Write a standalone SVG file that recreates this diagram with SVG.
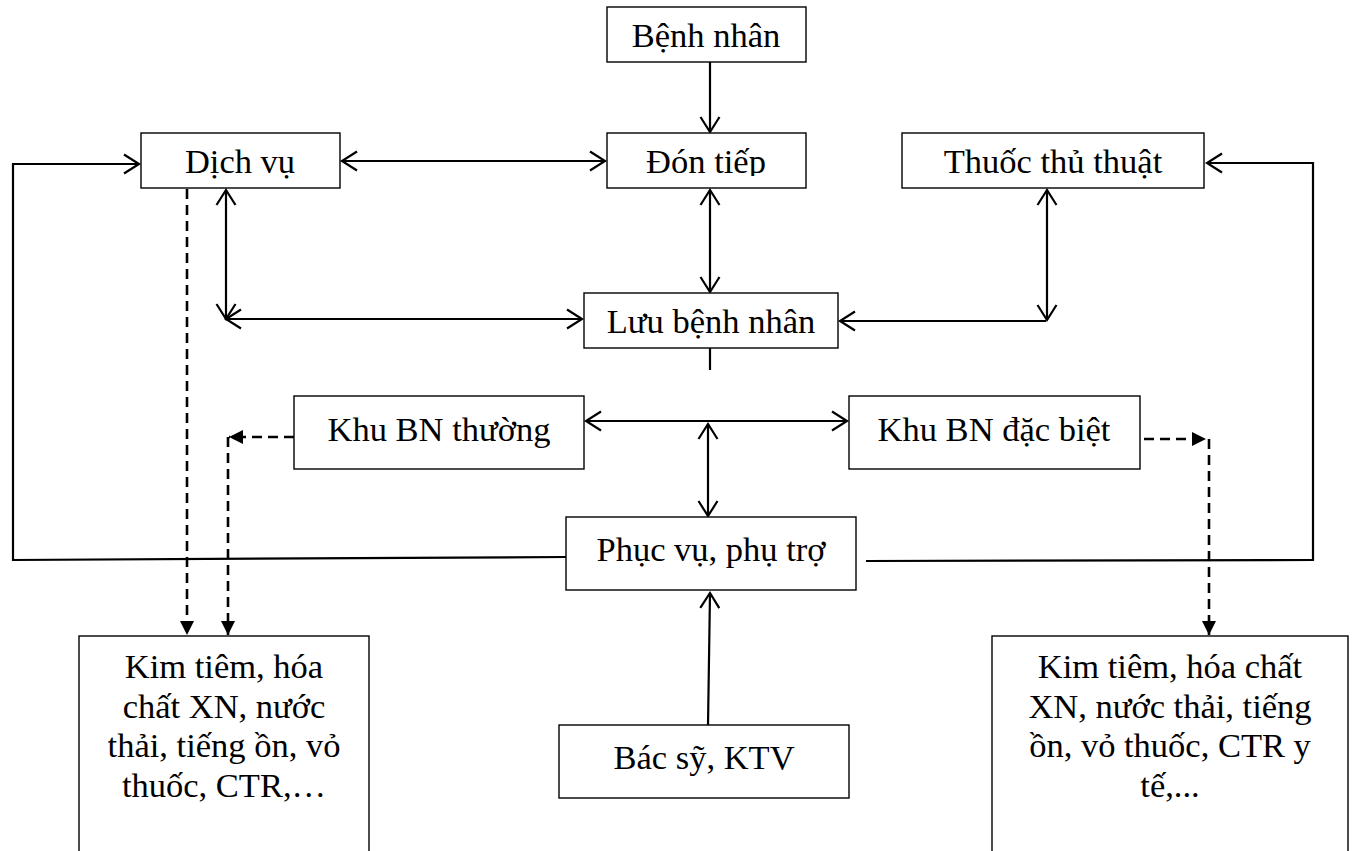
<svg xmlns="http://www.w3.org/2000/svg" width="1354" height="851" viewBox="0 0 1354 851">
  <style>
    .box { fill: #fff; stroke: #000; stroke-width: 1.4; }
    .lbl { font-family: "Liberation Serif", "Times New Roman", serif; font-size: 34.5px; fill: #000; text-anchor: middle; }
    .ln { fill: none; stroke: #000; stroke-width: 2.2; }
    .dash { fill: none; stroke: #000; stroke-width: 2.6; stroke-dasharray: 10 6; }
  </style>
  <defs>
    <marker id="open" markerUnits="userSpaceOnUse" markerWidth="22" markerHeight="22" viewBox="-17 -11 22 22" refX="0" refY="0" orient="auto-start-reverse" overflow="visible">
      <path d="M-15,-9.5 L0,0 L-15,9.5" fill="none" stroke="#000" stroke-width="2.2"/>
    </marker>
    <marker id="solid" markerUnits="userSpaceOnUse" markerWidth="16" markerHeight="16" viewBox="-14 -8 16 16" refX="0" refY="0" orient="auto" overflow="visible">
      <path d="M-14,-7 L0,0 L-14,7 Z" fill="#000"/>
    </marker>
    <clipPath id="clipDon">
      <rect x="607" y="133" width="199" height="43"/>
    </clipPath>
  </defs>

  <!-- connectors -->
  <g id="connectors">
    <line class="ln" x1="710" y1="62" x2="710" y2="132" marker-end="url(#open)"/>
    <line class="ln" x1="342" y1="161" x2="605" y2="161" marker-start="url(#open)" marker-end="url(#open)"/>
    <line class="ln" x1="710" y1="190" x2="710" y2="292" marker-start="url(#open)" marker-end="url(#open)"/>
    <line class="ln" x1="226" y1="190" x2="226" y2="319" marker-start="url(#open)" marker-end="url(#open)"/>
    <line class="ln" x1="226" y1="319" x2="582" y2="319" marker-start="url(#open)" marker-end="url(#open)"/>
    <line class="ln" x1="1047" y1="190" x2="1047" y2="320" marker-start="url(#open)" marker-end="url(#open)"/>
    <line class="ln" x1="840" y1="321" x2="1046" y2="321" marker-start="url(#open)"/>
    <line class="ln" x1="710" y1="348" x2="710" y2="370"/>
    <line class="ln" x1="586" y1="421" x2="847" y2="421" marker-start="url(#open)" marker-end="url(#open)"/>
    <line class="ln" x1="708" y1="424" x2="708" y2="516" marker-start="url(#open)" marker-end="url(#open)"/>
    <line class="ln" x1="708" y1="725" x2="710" y2="593" marker-end="url(#open)"/>
    <polyline class="ln" points="566,557 13,560 13,164 139,164" marker-end="url(#open)"/>
    <polyline class="ln" points="866,561 1313,560 1313,163 1207,163" marker-end="url(#open)"/>

    <line class="dash" x1="187" y1="189" x2="187" y2="635" marker-end="url(#solid)"/>
    <line class="dash" x1="294" y1="437" x2="229" y2="437" marker-end="url(#solid)"/>
    <line class="dash" x1="228" y1="437" x2="228" y2="635" marker-end="url(#solid)"/>
    <line class="dash" x1="1144" y1="439" x2="1206" y2="439" marker-end="url(#solid)"/>
    <line class="dash" x1="1209" y1="439" x2="1209" y2="635" marker-end="url(#solid)"/>
  </g>

  <!-- nodes -->
  <g id="benh-nhan">
    <rect class="box" x="607" y="7" width="199" height="55"/>
    <text class="lbl" x="706" y="47">Bệnh nhân</text>
  </g>
  <g id="don-tiep">
    <rect class="box" x="607" y="133" width="199" height="55"/>
    <text class="lbl" x="706" y="173" clip-path="url(#clipDon)">Đón tiếp</text>
  </g>
  <g id="dich-vu">
    <rect class="box" x="141" y="133" width="199" height="55"/>
    <text class="lbl" x="240" y="173">Dịch vụ</text>
  </g>
  <g id="thuoc-thu-thuat">
    <rect class="box" x="902" y="133" width="302" height="55"/>
    <text class="lbl" x="1053" y="173">Thuốc thủ thuật</text>
  </g>
  <g id="luu-benh-nhan">
    <rect class="box" x="584" y="293" width="254" height="55"/>
    <text class="lbl" x="711" y="333">Lưu bệnh nhân</text>
  </g>
  <g id="khu-bn-thuong">
    <rect class="box" x="294" y="396" width="290" height="73"/>
    <text class="lbl" x="439" y="441">Khu BN thường</text>
  </g>
  <g id="khu-bn-dac-biet">
    <rect class="box" x="849" y="396" width="291" height="73"/>
    <text class="lbl" x="994" y="441">Khu BN đặc biệt</text>
  </g>
  <g id="phuc-vu-phu-tro">
    <rect class="box" x="566" y="517" width="290" height="73"/>
    <text class="lbl" x="711" y="561">Phục vụ, phụ trợ</text>
  </g>
  <g id="bac-sy-ktv">
    <rect class="box" x="559" y="725" width="290" height="73"/>
    <text class="lbl" x="704" y="769">Bác sỹ, KTV</text>
  </g>
  <g id="chat-thai-trai">
    <rect class="box" x="79" y="636" width="290" height="240"/>
    <text class="lbl" x="224" y="678">Kim tiêm, hóa</text>
    <text class="lbl" x="224" y="718">chất XN, nước</text>
    <text class="lbl" x="224" y="757">thải, tiếng ồn, vỏ</text>
    <text class="lbl" x="224" y="797">thuốc, CTR,…</text>
  </g>
  <g id="chat-thai-phai">
    <rect class="box" x="992" y="636" width="356" height="240"/>
    <text class="lbl" x="1170" y="678">Kim tiêm, hóa chất</text>
    <text class="lbl" x="1170" y="718">XN, nước thải, tiếng</text>
    <text class="lbl" x="1170" y="757">ồn, vỏ thuốc, CTR y</text>
    <text class="lbl" x="1170" y="797">tế,...</text>
  </g>
</svg>
